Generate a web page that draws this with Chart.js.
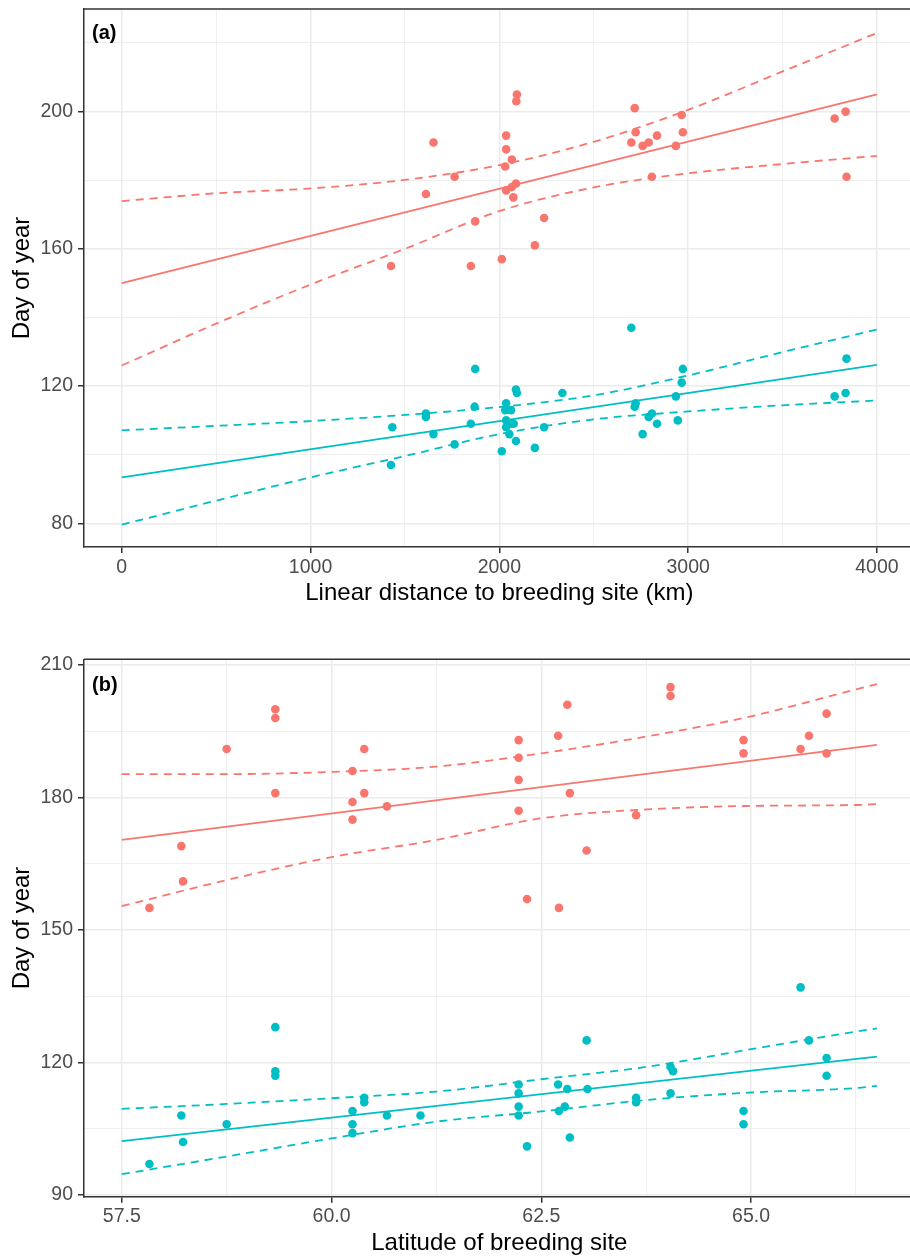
<!DOCTYPE html>
<html lang="en">
<head>
    <meta charset="UTF-8">
    <title>Day of year vs distance and latitude</title>
    <script src="https://cdn.jsdelivr.net/npm/chart.js"></script>
    <style>
        body {
            margin: 0;
            background: #fff;
        }

        #wrap {
            position: relative;
            width: 910px;
            height: 1258px;
            overflow: hidden;
        }

        canvas {
            position: absolute;
            left: 0;
        }
    </style>
</head>
<body>

    <div id="wrap">
        <canvas id="chartA" width="919" height="620" style="top:0"></canvas>
        <canvas id="chartB" width="919" height="638" style="top:620px"></canvas>
    </div>

    <script>
        // (a) linear distance to breeding site (km)
        const aRedDist = [1426, 1611, 1651, 1763, 1849, 1872, 2013, 2031, 2036, 2036, 2036, 2066, 2066, 2074, 2088, 2090, 2093, 2188, 2237, 2699, 2717, 2722, 2759, 2791, 2808, 2835, 2935, 2966, 2972, 3776, 3834, 3839];
        const aRedDay = [155, 176, 191, 181, 155, 168, 157, 184, 193, 189, 177, 186, 178, 175, 179, 203, 205, 161, 169, 191, 201, 194, 190, 191, 181, 193, 190, 199, 194, 198, 200, 181];
        const aTealDist = [1433, 1426, 1611, 1611, 1651, 1763, 1849, 1869, 1872, 2013, 2036, 2031, 2062, 2036, 2036, 2062, 2076, 2053, 2088, 2088, 2093, 2188, 2237, 2334, 2699, 2717, 2722, 2759, 2791, 2808, 2835, 2935, 2945, 2966, 2972, 3776, 3834, 3839];
        const aTealDay = [108, 97, 112, 111, 106, 103, 109, 114, 125, 101, 115, 113, 113, 110, 108, 109, 109, 106, 104, 119, 118, 102, 108, 118, 137, 114, 115, 106, 111, 112, 109, 117, 110, 121, 125, 117, 118, 128];

        const aFitX = [0, 4000];
        const aRedFit = [150, 205];
        const aTealFit = [93.4, 126.2];
        const aBandX = [0, 500, 1000, 1500, 2000, 2500, 3000, 3500, 4000];
        const aRedUpper = [173.9, 176.2, 177.6, 180.1, 184.4, 191.2, 200.5, 211.7, 222.9];
        const aRedLower = [126.0, 138.2, 149.6, 160.0, 171.0, 177.9, 182.0, 184.7, 187.1];
        const aTealUpper = [107.1, 108.4, 109.8, 111.6, 113.9, 117.3, 123.1, 129.9, 136.5];
        const aTealLower = [79.6, 86.6, 93.4, 99.6, 106.0, 110.3, 112.6, 114.4, 115.8];

        const aXTicks = [0, 500, 1000, 1500, 2000, 2500, 3000, 3500, 4000];
        const aXMajor = [0, 1000, 2000, 3000, 4000];
        const aYTicks = [80, 100, 120, 140, 160, 180, 200, 220];
        const aYMajor = [80, 120, 160, 200];

        // (b) latitude of breeding site
        const bRedLat = [57.83, 58.21, 58.23, 58.75, 59.33, 59.33, 59.33, 60.25, 60.25, 60.25, 60.39, 60.39, 60.66, 62.23, 62.23, 62.23, 62.23, 62.33, 62.70, 62.71, 62.81, 62.84, 63.04, 63.63, 64.04, 64.04, 64.91, 64.91, 65.59, 65.69, 65.90, 65.90];
        const bRedDay = [155, 169, 161, 191, 200, 198, 181, 186, 179, 175, 191, 181, 178, 193, 189, 184, 177, 157, 194, 155, 201, 181, 168, 176, 205, 203, 193, 190, 191, 194, 199, 190];
        const bTealLat = [57.83, 58.21, 58.23, 58.75, 59.33, 59.33, 59.33, 60.25, 60.25, 60.25, 60.39, 60.39, 60.66, 61.06, 62.23, 62.23, 62.23, 62.23, 62.33, 62.70, 62.71, 62.78, 62.81, 62.84, 63.04, 63.05, 63.63, 63.63, 64.04, 64.07, 64.04, 64.91, 64.91, 65.59, 65.69, 65.90, 65.90];
        const bTealDay = [97, 108, 102, 106, 128, 118, 117, 109, 106, 104, 112, 111, 108, 108, 115, 113, 110, 108, 101, 115, 109, 110, 114, 103, 125, 114, 112, 111, 119, 118, 113, 109, 106, 137, 125, 121, 117];

        const bFitX = [57.5, 66.5];
        const bRedFit = [170.4, 191.9];
        const bTealFit = [102.2, 121.3];
        const bBandX = [57.5, 58.75, 60, 61.25, 62.5, 63.75, 65, 66.25, 66.5];
        const bRedUpper = [185.3, 185.3, 185.8, 187.0, 190.0, 193.8, 198.4, 204.5, 205.7];
        const bRedLower = [155.4, 161.3, 166.5, 170.4, 175.3, 177.3, 178.1, 178.3, 178.5];
        const bTealUpper = [109.5, 110.6, 111.9, 113.4, 116.2, 119.0, 123.0, 127.0, 127.7];
        const bTealLower = [94.7, 98.7, 102.8, 106.6, 108.9, 111.5, 113.2, 114.2, 114.7];

        const bXTicks = [57.5, 58.75, 60, 61.25, 62.5, 63.75, 65, 66.25];
        const bXMajor = [57.5, 60, 62.5, 65];
        const bYTicks = [90, 105, 120, 135, 150, 165, 180, 195, 210];
        const bYMajor = [90, 120, 150, 180, 210];

        const RED = '#F8766D';
        const TEAL = '#00BFC4';
        const FONT = '"Liberation Sans", Arial, sans-serif';
        const tickFont = { family: FONT, size: 19.5 };
        const titleFont = { family: FONT, size: 24 };

        function pts(xs, ys) {
            return xs.map((x, i) => ({ x: x, y: ys[i] }));
        }

        function fitLine(xs, ys, color) {
            return { data: pts(xs, ys), showLine: true, borderColor: color, borderWidth: 1.8, pointRadius: 0 };
        }

        function bandLine(xs, ys, color) {
            return {
                data: pts(xs, ys), showLine: true, borderColor: color, borderWidth: 1.8,
                borderDash: [8, 6], pointRadius: 0, cubicInterpolationMode: 'monotone'
            };
        }

        function dots(xs, ys, color) {
            return { data: pts(xs, ys), backgroundColor: color, pointRadius: 4.3, pointBorderWidth: 0, borderWidth: 0 };
        }

        function gridOpts(major) {
            return {
                color: '#EBEBEB',
                lineWidth: c => major.includes(c.tick.value) ? 1.5 : 0.8,
                tickColor: c => major.includes(c.tick.value) ? '#333333' : 'rgba(0,0,0,0)',
                tickLength: 6,
                tickWidth: 1.5
            };
        }

        function xAxis(ticks, major, min, max, text, fmt, axisH, titlePad) {
            return {
                type: 'linear', min: min, max: max,
                afterBuildTicks: s => { s.ticks = ticks.map(v => ({ value: v })); },
                afterFit: s => {
                    s.height = axisH;
                    s.paddingLeft = 0;
                    s.paddingRight = 0;
                },
                grid: gridOpts(major),
                border: { color: '#333333', width: 1.5 },
                ticks: {
                    color: '#4D4D4D', font: tickFont, padding: 2.5, maxRotation: 0, autoSkip: false,
                    callback: v => major.includes(v) ? fmt(v) : ''
                },
                title: { display: true, text: text, color: '#000', font: titleFont, padding: { top: 0, bottom: titlePad } }
            };
        }

        function yAxis(ticks, major, min, max) {
            return {
                type: 'linear', min: min, max: max,
                afterBuildTicks: s => { s.ticks = ticks.map(v => ({ value: v })); },
                afterFit: s => {
                    s.width = 84;
                    s.paddingTop = 0;
                    s.paddingBottom = 0;
                },
                grid: gridOpts(major),
                border: { color: '#333333', width: 1.5 },
                ticks: {
                    color: '#4D4D4D', font: tickFont, padding: 5, autoSkip: false,
                    callback: v => major.includes(v) ? String(v) : ''
                },
                title: { display: true, text: 'Day of year', color: '#000', font: titleFont, padding: { top: 7.6, bottom: 0 } }
            };
        }

        // top border of the panel + "(a)" / "(b)" tag
        const panelDecor = {
            id: 'panelDecor',
            afterDraw(chart, args, opts) {
                const { ctx, chartArea } = chart;
                ctx.save();
                ctx.strokeStyle = '#333333';
                ctx.lineWidth = 1.5;
                ctx.beginPath();
                ctx.moveTo(chartArea.left, chartArea.top);
                ctx.lineTo(chartArea.right, chartArea.top);
                ctx.stroke();
                ctx.font = 'bold 20px ' + FONT;
                ctx.fillStyle = '#000';
                ctx.textBaseline = 'middle';
                ctx.fillText(opts.label, chartArea.left + 8, chartArea.top + opts.dy);
                ctx.restore();
            }
        };

        function makePanel(id, datasets, xOpts, yOpts, padTop, label, dy) {
            new Chart(document.getElementById(id), {
                type: 'scatter',
                data: { datasets: datasets },
                options: {
                    responsive: false,
                    animation: false,
                    devicePixelRatio: 1,
                    layout: { padding: { top: padTop, left: 0, right: 0, bottom: 0 } },
                    scales: { x: xOpts, y: yOpts },
                    plugins: {
                        legend: { display: false },
                        tooltip: { enabled: false },
                        panelDecor: { label: label, dy: dy }
                    }
                },
                plugins: [panelDecor]
            });
        }

        makePanel('chartA', [
            fitLine(aFitX, aRedFit, RED),
            bandLine(aBandX, aRedUpper, RED),
            bandLine(aBandX, aRedLower, RED),
            fitLine(aFitX, aTealFit, TEAL),
            bandLine(aBandX, aTealUpper, TEAL),
            bandLine(aBandX, aTealLower, TEAL),
            dots(aRedDist, aRedDay, RED),
            dots(aTealDist, aTealDay, TEAL)
        ],
            xAxis(aXTicks, aXMajor, -200, 4200, 'Linear distance to breeding site (km)', v => String(v), 73, 12.1),
            yAxis(aYTicks, aYMajor, 73.1, 229.9),
            9, '(a)', 24);

        makePanel('chartB', [
            fitLine(bFitX, bRedFit, RED),
            bandLine(bBandX, bRedUpper, RED),
            bandLine(bBandX, bRedLower, RED),
            fitLine(bFitX, bTealFit, TEAL),
            bandLine(bBandX, bTealUpper, TEAL),
            bandLine(bBandX, bTealLower, TEAL),
            dots(bRedLat, bRedDay, RED),
            dots(bTealLat, bTealDay, TEAL)
        ],
            xAxis(bXTicks, bXMajor, 57.05, 66.95, 'Latitude of breeding site', v => v.toFixed(1), 61.3, 0.4),
            yAxis(bYTicks, bYMajor, 89.6, 211.3),
            39.3, '(b)', 26);
    </script>

</body>
</html>
